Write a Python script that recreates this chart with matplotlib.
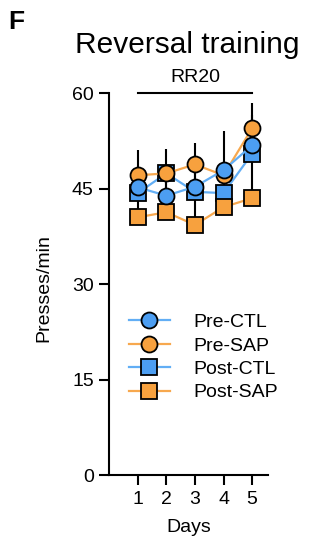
import matplotlib.pyplot as plt

plt.rcParams['font.family'] = ['Liberation Sans', 'DejaVu Sans']

days = [1, 2, 3, 4, 5]
pre_ctl = [45.2, 43.9, 45.3, 47.9, 51.8]
pre_ctl_err = [0, 2.5, 0, 6.1, 0]
pre_sap = [47.1, 47.4, 48.8, 47.1, 54.5]
pre_sap_err = [3.9, 3.9, 3.3, 0, 3.9]
post_ctl = [44.3, 47.4, 44.5, 44.3, 50.5]
post_ctl_err = [3.5, 0, 5.0, 0, 6.0]
post_sap = [40.5, 41.3, 39.3, 42.1, 43.5]
post_sap_err = [0, 0, 0, 0, 0]

blue = '#4c9ef2'
orange = '#f7a13e'
blue_line = '#62aef5'
orange_line = '#f7a84e'

fs = 14

fig = plt.figure(figsize=(3.09, 5.48), dpi=100)
ax = fig.add_axes([0.353, 0.133, 0.514, 0.697])

series = [
    ('Post-CTL', post_ctl, post_ctl_err, 's', blue, blue_line, 3),
    ('Post-SAP', post_sap, post_sap_err, 's', orange, orange_line, 4),
    ('Pre-SAP', pre_sap, pre_sap_err, 'o', orange, orange_line, 5),
    ('Pre-CTL', pre_ctl, pre_ctl_err, 'o', blue, blue_line, 6),
]
handles = {}
for name, vals, err, mk, fc, lc, z in series:
    ax.errorbar(days, vals, yerr=err, fmt='none', ecolor='black',
                elinewidth=1.5, capsize=0, zorder=2)
    h, = ax.plot(days, vals, color=lc, lw=1.6, marker=mk, markersize=11.5,
                 markerfacecolor=fc, markeredgecolor='black',
                 markeredgewidth=1.3, zorder=z, clip_on=False)
    handles[name] = h

order = ['Pre-CTL', 'Pre-SAP', 'Post-CTL', 'Post-SAP']
ax.legend([handles[k] for k in order], order, loc='center left',
          bbox_to_anchor=(0.125, 0.308), frameon=False, fontsize=fs,
          handlelength=2.1, labelspacing=0.3, handletextpad=1.2,
          borderaxespad=0, borderpad=0)

ax.set_xlim(0, 5.55)
ax.set_ylim(0, 60)
ax.set_yticks([0, 15, 30, 45, 60])
ax.set_xticks(days)
ax.spines['top'].set_visible(False)
ax.spines['right'].set_visible(False)
for s in ['left', 'bottom']:
    ax.spines[s].set_linewidth(1.5)
ax.tick_params(width=1.5, length=7.5, labelsize=fs, colors='black')
ax.tick_params(axis='x', pad=4)
ax.set_xlabel('Days', fontsize=fs, labelpad=8)
ax.set_ylabel('Presses/min', fontsize=fs)
ax.yaxis.set_label_coords(-0.36, 0.49)

ax.plot([1, 5], [60, 60], color='black', lw=1.5, clip_on=False)
ax.text(3, 62.4, 'RR20', ha='center', va='center', fontsize=fs)

fig.text(0.607, 0.918, 'Reversal training', ha='center', va='center',
         fontsize=21.5)
fig.text(0.026, 0.959, 'F', ha='left', va='center', fontsize=19,
         fontweight='bold')

fig.savefig('out.png', dpi=100)
